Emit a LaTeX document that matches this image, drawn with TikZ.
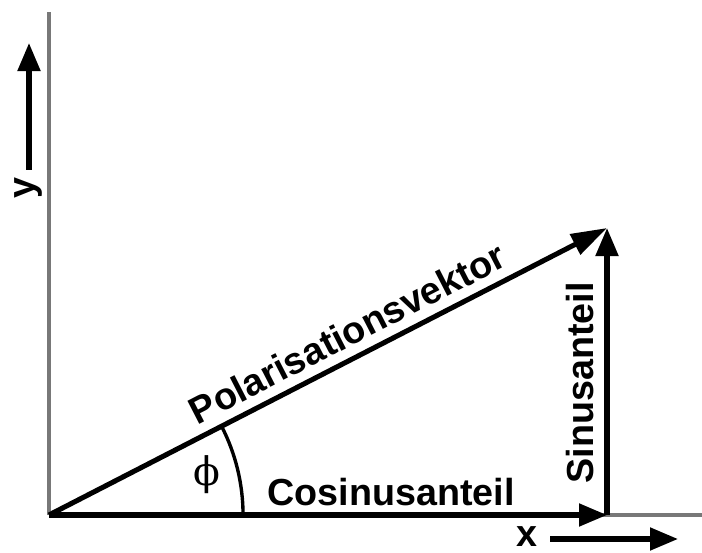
\documentclass[tikz,border=0pt]{standalone}
\usepackage{fontspec}
\setmainfont{Liberation Sans}
\newfontfamily\greekfont{DejaVu Serif}
\usetikzlibrary{arrows.meta,calc}
\definecolor{axisgray}{RGB}{120,120,120}

\begin{document}
\begin{tikzpicture}[x=0.025cm,y=0.025cm,
      every node/.style={font=\fontsize{26.8}{30}\selectfont\bfseries,inner sep=0pt},
      axis/.style={axisgray,line width=2.2pt},
      vec/.style={line width=3.6pt,-{Triangle[length=0.7cm,width=0.55cm]}},
      hint/.style={line width=3.6pt,-{Triangle[length=0.7cm,width=0.55cm]}}]
    \useasboundingbox (0,0) rectangle (702,552);
    % Points of the triangle
    \coordinate (O) at (49,37);
    \coordinate (C) at (607,37);
    \coordinate (P) at (607,324);
    \coordinate (ytop) at (49,540);
    \coordinate (xend) at (702,37);
    % Axes
    \draw[axis] (O)--(ytop);
    \draw[axis] (O)--(xend);
    % Components and vector
    \draw[vec] (O)--(C);
    \draw[vec] (C)--(P);
    \draw[vec,-{Triangle[length=0.9cm,width=0.55cm]}] (O)--(P)
         node[pos=0.555,sloped,above=0.3cm,anchor=base] (pol) {Polarisationsvektor};
    \node[anchor=base] (cos) at (391,47) {Cosinusanteil};
    \node[anchor=base,rotate=90] (sin) at (593,169) {Sinusanteil};
    % Angle
    \draw[line width=2.4pt] ($(O)+(4.85cm,0)$) arc[start angle=0,end angle=27.2,radius=4.85cm];
    \node[font=\fontsize{28}{30}\selectfont\greekfont] (phi) at (207,77) {ϕ};
    % Axis labels
    \node[rotate=90] (ylab) at (28,364) {y};
    \coordinate (ya) at (29,382);
    \coordinate (yb) at (29,509);
    \draw[hint] (ya)--(yb);
    \node (xlab) at (527,15) {x};
    \coordinate (xa) at (550,13);
    \coordinate (xb) at (678,13);
    \draw[hint] (xa)--(xb);
  \end{tikzpicture}
\end{document}
